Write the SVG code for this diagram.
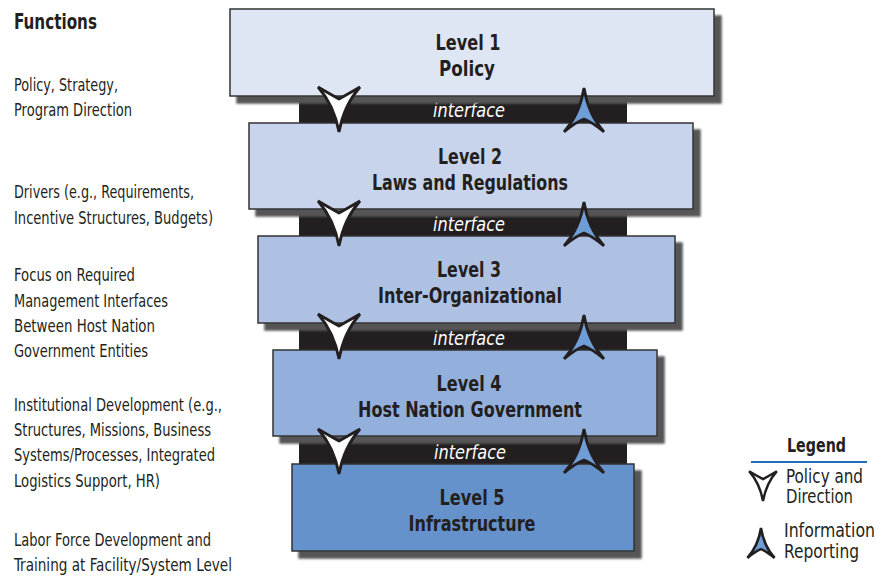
<svg xmlns="http://www.w3.org/2000/svg" width="890" height="579" viewBox="0 0 890 579">
<style>
.lvl{font-family:"Liberation Sans Narrow","DejaVu Sans Condensed","Liberation Sans",sans-serif;font-weight:bold;font-size:22px;fill:#231f20;text-anchor:middle}
.fn{font-family:"Liberation Sans Narrow","DejaVu Sans Condensed","Liberation Sans",sans-serif;font-size:17.5px;fill:#231f20}
.ifc{font-family:"DejaVu Sans Condensed","Liberation Sans",sans-serif;font-style:italic;font-size:19px;fill:#ffffff;text-anchor:middle}
.box{stroke:#333333;stroke-width:1.5;filter:url(#sh)}
.band{fill:#231f20}
.down{fill:#ffffff;stroke:#231f20;stroke-width:2.8;stroke-linejoin:miter}
.up{fill:#6f9ed6;stroke:#231f20;stroke-width:2.8;stroke-linejoin:miter}
.lg{font-family:"Liberation Sans Narrow","DejaVu Sans Condensed","Liberation Sans",sans-serif;font-size:19px;fill:#231f20}
</style>
<defs>
<filter id="sh" x="-5%" y="-10%" width="115%" height="130%">
<feGaussianBlur in="SourceAlpha" stdDeviation="1.2" result="b"/>
<feOffset in="b" dx="7" dy="7" result="o"/>
<feFlood flood-color="#555555"/>
<feComposite in2="o" operator="in" result="s"/>
<feMerge><feMergeNode in="s"/><feMergeNode in="SourceGraphic"/></feMerge>
</filter>
<path id="dn" d="M -21,-8 Q -9,-1 0,4 Q 9,-1 21,-8 Q 5,10 0,37 Q -5,10 -21,-8 Z"/>
<path id="upa" d="M 0,-8 Q 4,18 20,36 Q 8,26 0,23 Q -8,26 -20,36 Q -4,18 0,-8 Z"/>
</defs>
<rect width="890" height="579" fill="#ffffff"/>

<g id="functions">
<text x="14" y="29" class="fn" style="font-weight:bold;font-size:21px" textLength="83" lengthAdjust="spacingAndGlyphs">Functions</text>
<text x="14" y="91" class="fn" textLength="104" lengthAdjust="spacingAndGlyphs">Policy, Strategy,</text>
<text x="14" y="116" class="fn" textLength="118" lengthAdjust="spacingAndGlyphs">Program Direction</text>
<text x="14" y="198" class="fn" textLength="180" lengthAdjust="spacingAndGlyphs">Drivers (e.g., Requirements,</text>
<text x="14" y="224" class="fn" textLength="199" lengthAdjust="spacingAndGlyphs">Incentive Structures, Budgets)</text>
<text x="14" y="281" class="fn" textLength="121" lengthAdjust="spacingAndGlyphs">Focus on Required</text>
<text x="14" y="307" class="fn" textLength="154" lengthAdjust="spacingAndGlyphs">Management Interfaces</text>
<text x="14" y="332" class="fn" textLength="141" lengthAdjust="spacingAndGlyphs">Between Host Nation</text>
<text x="14" y="357" class="fn" textLength="134" lengthAdjust="spacingAndGlyphs">Government Entities</text>
<text x="14" y="411" class="fn" textLength="208" lengthAdjust="spacingAndGlyphs">Institutional Development (e.g.,</text>
<text x="14" y="436" class="fn" textLength="197" lengthAdjust="spacingAndGlyphs">Structures, Missions, Business</text>
<text x="14" y="461" class="fn" textLength="201" lengthAdjust="spacingAndGlyphs">Systems/Processes, Integrated</text>
<text x="14" y="487" class="fn" textLength="146" lengthAdjust="spacingAndGlyphs">Logistics Support, HR)</text>
<text x="14" y="546" class="fn" textLength="197" lengthAdjust="spacingAndGlyphs">Labor Force Development and</text>
<text x="14" y="571" class="fn" textLength="218" lengthAdjust="spacingAndGlyphs">Training at Facility/System Level</text>
</g>

<g id="interfaces">
<g id="interface1"><rect class="band" x="299" y="95" width="328" height="29"/><text class="ifc" x="469" y="117" textLength="72" lengthAdjust="spacingAndGlyphs">interface</text></g>
<g id="interface2"><rect class="band" x="299" y="208" width="328" height="29"/><text class="ifc" x="469" y="231" textLength="72" lengthAdjust="spacingAndGlyphs">interface</text></g>
<g id="interface3"><rect class="band" x="299" y="322" width="328" height="29"/><text class="ifc" x="469" y="345" textLength="72" lengthAdjust="spacingAndGlyphs">interface</text></g>
<g id="interface4"><rect class="band" x="299" y="435" width="328" height="30"/><text class="ifc" x="470" y="459" textLength="72" lengthAdjust="spacingAndGlyphs">interface</text></g>
</g>

<g id="level1"><rect class="box" x="230" y="9" width="484" height="87" fill="#dfe6f3"/>
<text class="lvl" x="468" y="50" textLength="65" lengthAdjust="spacingAndGlyphs">Level 1</text>
<text class="lvl" x="467" y="76" textLength="56" lengthAdjust="spacingAndGlyphs">Policy</text></g>
<g id="level2"><rect class="box" x="249" y="123" width="444" height="86" fill="#c7d4eb"/>
<text class="lvl" x="470" y="164" textLength="64" lengthAdjust="spacingAndGlyphs">Level 2</text>
<text class="lvl" x="470" y="190" textLength="196" lengthAdjust="spacingAndGlyphs">Laws and Regulations</text></g>
<g id="level3"><rect class="box" x="258" y="236" width="417" height="87" fill="#aec1e3"/>
<text class="lvl" x="469" y="277" textLength="64" lengthAdjust="spacingAndGlyphs">Level 3</text>
<text class="lvl" x="470" y="303" textLength="184" lengthAdjust="spacingAndGlyphs">Inter-Organizational</text></g>
<g id="level4"><rect class="box" x="273" y="350" width="384" height="86" fill="#93b0dc"/>
<text class="lvl" x="469" y="391" textLength="65" lengthAdjust="spacingAndGlyphs">Level 4</text>
<text class="lvl" x="470" y="417" textLength="224" lengthAdjust="spacingAndGlyphs">Host Nation Government</text></g>
<g id="level5"><rect class="box" x="292" y="464" width="342" height="87" fill="#6592cb"/>
<text class="lvl" x="472" y="505" textLength="65" lengthAdjust="spacingAndGlyphs">Level 5</text>
<text class="lvl" x="472" y="531" textLength="127" lengthAdjust="spacingAndGlyphs">Infrastructure</text></g>

<g id="connectors">
<use href="#dn" class="down" transform="translate(339,95)"/>
<use href="#upa" class="up" transform="translate(584,96)"/>
<use href="#dn" class="down" transform="translate(339,209)"/>
<use href="#upa" class="up" transform="translate(584,210)"/>
<use href="#dn" class="down" transform="translate(339,322)"/>
<use href="#upa" class="up" transform="translate(584,323)"/>
<use href="#dn" class="down" transform="translate(339,437)"/>
<use href="#upa" class="up" transform="translate(584,437)"/>
</g>

<g id="legend">
<text x="787" y="452" class="lg" style="font-weight:bold" textLength="59" lengthAdjust="spacingAndGlyphs">Legend</text>
<line x1="751" y1="462" x2="867" y2="462" stroke="#1f70b8" stroke-width="2"/>
<use href="#dn" class="down" transform="translate(763,476.5) scale(0.66)" style="stroke-width:3.8"/>
<text x="786" y="483" class="lg" textLength="77" lengthAdjust="spacingAndGlyphs">Policy and</text>
<text x="786" y="503" class="lg" textLength="67" lengthAdjust="spacingAndGlyphs">Direction</text>
<use href="#upa" class="up" transform="translate(761,533.5) scale(0.68)" style="stroke-width:3.8"/>
<text x="784" y="537" class="lg" textLength="91" lengthAdjust="spacingAndGlyphs">Information</text>
<text x="784" y="558" class="lg" textLength="75" lengthAdjust="spacingAndGlyphs">Reporting</text>
</g>
</svg>
